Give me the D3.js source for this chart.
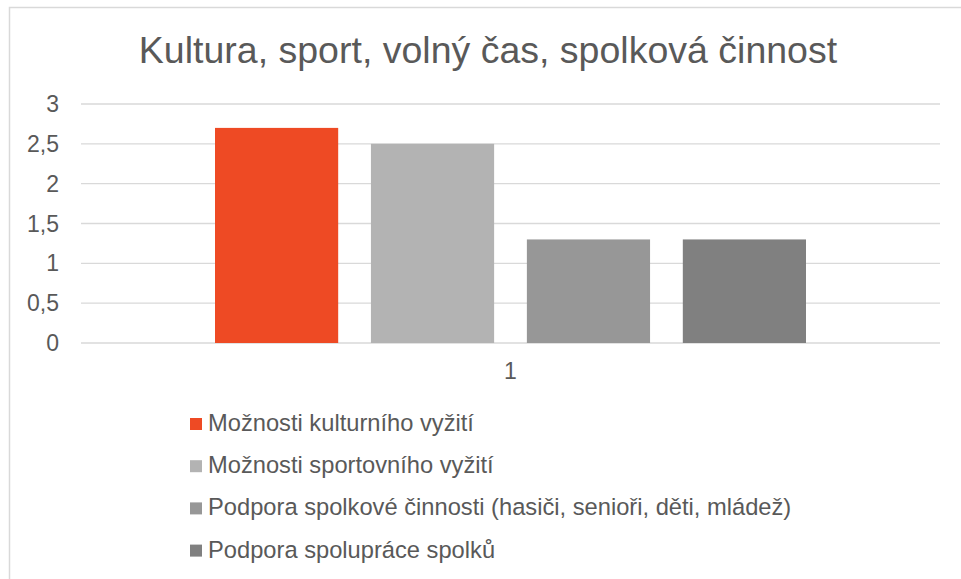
<!DOCTYPE html>
<html>
<head>
<meta charset="utf-8">
<script src="https://cdn.jsdelivr.net/npm/d3@7"></script>
<style>
  body { margin: 0; background: #fff; }
  text { font-family: "Liberation Sans", Arial, sans-serif; fill: #595959; }
</style>
</head>
<body>
<svg id="chart" width="961" height="579"></svg>
<script>
const titleText = 'Kultura, sport, volný čas, spolková činnost'
const categories = ['1']
const seriesNames = [
  'Možnosti kulturního vyžití',
  'Možnosti sportovního vyžití',
  'Podpora spolkové činnosti (hasiči, senioři, děti, mládež)',
  'Podpora spolupráce spolků'
]
const seriesValues = [2.7, 2.5, 1.3, 1.3]
const seriesColors = ['#ee4a24', '#b3b3b3', '#979797', '#808080']
const yTicks = [0, 0.5, 1, 1.5, 2, 2.5, 3]

let svg = d3.select('#chart')

// chart frame (only top + left edge fall inside the picture)
svg.append('rect')
   .attr('x', 9.5).attr('y', 7.5)
   .attr('width', 980).attr('height', 600)
   .attr('fill', 'none')
   .attr('stroke', '#d9d9d9')
   .attr('stroke-width', 1.5)

svg.append('text')
   .attr('x', 488).attr('y', 63)
   .attr('text-anchor', 'middle')
   .attr('font-size', 37.5)
   .text(titleText)

let plotLeft = 81, plotRight = 940
let y = d3.scaleLinear().domain([0, 3]).range([343, 104])
let x = d3.scaleBand().domain(categories).range([plotLeft, plotRight])
let inner = d3.scaleBand()
    .domain(seriesNames)
    .range([134, x.bandwidth() - 134])
    .paddingInner(0.21)

// gridlines
svg.append('g')
   .selectAll('line')
   .data(yTicks)
   .enter()
   .append('line')
   .attr('x1', plotLeft).attr('x2', plotRight)
   .attr('y1', d => y(d)).attr('y2', d => y(d))
   .attr('stroke', '#d9d9d9')
   .attr('stroke-width', 1.3)

// y labels
svg.append('g')
   .selectAll('text')
   .data(yTicks)
   .enter()
   .append('text')
   .attr('x', 59)
   .attr('y', d => y(d) + 8)
   .attr('text-anchor', 'end')
   .attr('font-size', 23)
   .text(d => String(d).replace('.', ','))

// bars
categories.forEach(cat => {
  svg.append('g')
     .selectAll('rect')
     .data(seriesValues)
     .enter()
     .append('rect')
     .attr('x', (d, i) => x(cat) + inner(seriesNames[i]))
     .attr('width', inner.bandwidth())
     .attr('y', d => y(d))
     .attr('height', d => y(0) - y(d))
     .attr('fill', (d, i) => seriesColors[i])

  svg.append('text')
     .attr('x', x(cat) + x.bandwidth() / 2)
     .attr('y', 379)
     .attr('text-anchor', 'middle')
     .attr('font-size', 23)
     .text(cat)
})

// legend
let legend = svg.append('g')
    .selectAll('g')
    .data(seriesNames)
    .enter()
    .append('g')
    .attr('transform', (d, i) => 'translate(190,' + (431 + i * 42.2) + ')')

legend.append('rect')
      .attr('x', 0).attr('y', -13)
      .attr('width', 12).attr('height', 12)
      .attr('fill', (d, i) => seriesColors[i])

legend.append('text')
      .attr('x', 18).attr('y', 0)
      .attr('font-size', 23.7)
      .text(d => d)
</script>
</body>
</html>
